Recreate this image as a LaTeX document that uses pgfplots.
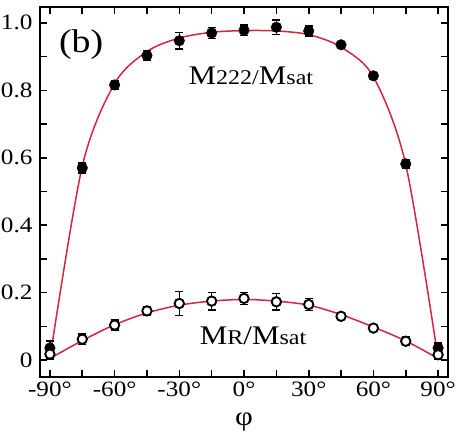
\documentclass[border=0pt]{standalone}
\usepackage{fontspec}
\setmainfont{Liberation Serif}[FakeStretch=1.15]
\usepackage{pgfplots}
\pgfplotsset{compat=1.18}

\definecolor{fitred}{RGB}{215,35,65}

\begin{document}
\begin{tikzpicture}
\begin{axis}[
    at={(0,0)}, anchor=south west,
    scale only axis, width=408bp, height=370bp,
    xmin=-94.6, xmax=94.6, ymin=-0.05, ymax=1.047,
    xtick={-90,-75,-60,-45,-30,-15,0,15,30,45,60,75,90},
    xticklabels={-90°,,-60°,,-30°,,0°,,30°,,60°,,90°},
    ytick={0,0.1,0.2,0.3,0.4,0.5,0.6,0.7,0.8,0.9,1.0},
    yticklabels={0,,0.2,,0.4,,0.6,,0.8,,1.0},
    tick align=inside, major tick length=7bp,
    every tick/.style={black, line width=1.6bp},
    axis line style={line width=2bp},
    tick label style={font=\fontsize{22}{24}\selectfont},
    xticklabel style={yshift=-1bp},
    yticklabel style={xshift=-4bp},
    xlabel={φ},
    xlabel style={font=\fontsize{27}{29}\selectfont, yshift=-10bp},
    error bars/error bar style={line width=1.5bp, black},
    error bars/error mark options={rotate=90, mark size=4bp, line width=1.5bp, black},
]
% fit curves
\addplot[fitred, line width=1.5bp, smooth] coordinates {
  (-90,0.005) (-75,0.575) (-60,0.82) (-45,0.915) (-30,0.955) (-15,0.972)
  (0,0.977) (15,0.976) (30,0.965) (45,0.928) (60,0.84) (75,0.58) (90,0.005)
};
\addplot[fitred, line width=1.5bp, smooth] coordinates {
  (-90,0.005) (-75,0.058) (-60,0.105) (-45,0.14) (-30,0.163) (-15,0.175)
  (0,0.18) (15,0.175) (30,0.163) (45,0.135) (60,0.098) (75,0.057) (90,0.005)
};
% M222/Msat
\addplot[only marks, mark=*, mark size=5.3bp, mark options={fill=black, draw=black},
  error bars/.cd, y dir=both, y explicit] coordinates {
  (-90,0.036) +- (0,0.02)
  (-75,0.570) +- (0,0.015)
  (-60,0.816) +- (0,0.012)
  (-45,0.903) +- (0,0.015)
  (-30,0.947) +- (0,0.025)
  (-15,0.970) +- (0,0.016)
  (0,0.978) +- (0,0.015)
  (15,0.987) +- (0,0.022)
  (30,0.976) +- (0,0.015)
  (45,0.935) +- (0,0.010)
  (60,0.843) +- (0,0.008)
  (75,0.582) +- (0,0.012)
  (90,0.036) +- (0,0.015)
};
% MR/Msat
\addplot[only marks, mark=*, mark size=4.7bp, mark options={fill=white, draw=black, line width=1.9bp},
  error bars/.cd, y dir=both, y explicit] coordinates {
  (-90,0.018) +- (0,0.015)
  (-75,0.062) +- (0,0.015)
  (-60,0.104) +- (0,0.015)
  (-45,0.146) +- (0,0.012)
  (-30,0.168) +- (0,0.035)
  (-15,0.175) +- (0,0.026)
  (0,0.183) +- (0,0.018)
  (15,0.173) +- (0,0.025)
  (30,0.165) +- (0,0.018)
  (45,0.130) +- (0,0.010)
  (60,0.095) +- (0,0.008)
  (75,0.056) +- (0,0.012)
  (90,0.016) +- (0,0.012)
};
\node[font=\fontsize{33}{35}\selectfont] at (axis cs:-75.5,0.935) {(b)};
\node[anchor=base] at (axis cs:3.2,0.817)
  {\fontsize{27}{29}\selectfont M\fontsize{21}{23}\selectfont 222/\fontsize{27}{29}\selectfont M\fontsize{21}{23}\selectfont sat};
\node[anchor=base] at (axis cs:4.2,0.045)
  {\fontsize{27}{29}\selectfont M\fontsize{21}{23}\selectfont R\fontsize{27}{29}\selectfont /M\fontsize{21}{23}\selectfont sat};
\end{axis}
\pgfresetboundingbox
\path (-40bp,-61bp) rectangle (420bp,377bp);
\end{tikzpicture}
\end{document}
